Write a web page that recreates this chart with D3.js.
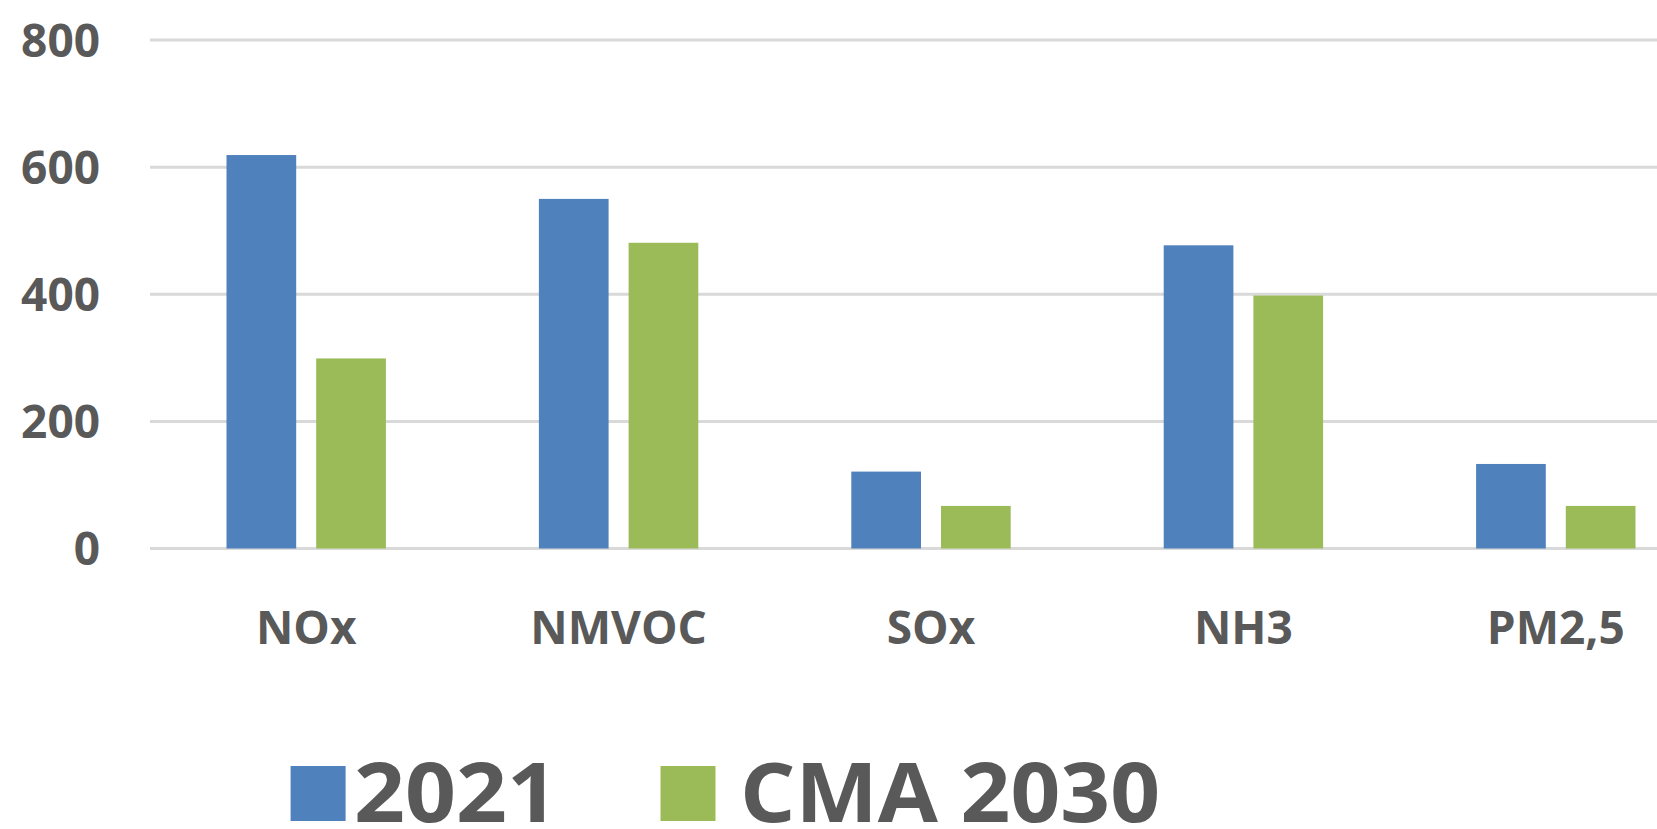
<!DOCTYPE html>
<html>
<head>
<meta charset="utf-8">
<script src="https://cdn.jsdelivr.net/npm/d3@7"></script>
<style>
  html, body { margin: 0; padding: 0; background: #ffffff; }
  svg { display: block; }
</style>
</head>
<body>
<svg id="chart" width="1657" height="829"></svg>
<script>
const categories = ["NOx", "NMVOC", "SOx", "NH3", "PM2,5"];
const seriesNames = ["2021", "CMA 2030"];
const values2021 = [619, 550, 121, 477, 133];
const valuesCMA2030 = [299, 481, 67, 398, 67];
const yTicks = [0, 200, 400, 600, 800];
const colors = ["#4f81bd", "#9bbb59"];

const seriesValues = [values2021, valuesCMA2030];
const rows = categories.map((c, i) => ({
  cat: c,
  vals: seriesNames.map((s, j) => ({ series: s, value: seriesValues[j][i], color: colors[j] }))
}));

const svg = d3.select("#chart");
const textColor = "#595959";
const fontFam = "'Open Sans', 'Liberation Sans', sans-serif";

const x0 = d3.scaleBand().domain(categories).range([150, 1712]).padding(0);
const x1 = d3.scaleBand().domain(seriesNames).range([0, x0.bandwidth()])
  .paddingInner(0.223).paddingOuter(0.853);
const y = d3.scaleLinear().domain([0, 800]).range([548.5, 40]);

// gridlines
svg.append("g").selectAll("line").data(yTicks).join("line")
  .attr("x1", 150).attr("x2", 1712)
  .attr("y1", d => y(d)).attr("y2", d => y(d))
  .attr("stroke", "#d9d9d9").attr("stroke-width", 3);

// y tick labels
svg.append("g").selectAll("text").data(yTicks).join("text")
  .attr("x", 100).attr("y", d => y(d))
  .attr("dy", "0.36em")
  .attr("text-anchor", "end")
  .attr("font-family", fontFam).attr("font-weight", 700)
  .attr("font-size", 46).attr("fill", textColor)
  .text(d => d);

// bars
const groups = svg.append("g").selectAll("g").data(rows).join("g")
  .attr("transform", d => `translate(${x0(d.cat)},0)`);
groups.selectAll("rect").data(d => d.vals).join("rect")
  .attr("x", d => x1(d.series))
  .attr("width", x1.bandwidth())
  .attr("y", d => y(d.value))
  .attr("height", d => y(0) - y(d.value))
  .attr("fill", d => d.color);

// x labels
svg.append("g").selectAll("text").data(categories).join("text")
  .attr("x", d => x0(d) + x0.bandwidth() / 2)
  .attr("y", 644)
  .attr("text-anchor", "middle")
  .attr("font-family", fontFam).attr("font-weight", 700)
  .attr("font-size", 46).attr("fill", textColor)
  .text(d => d);

// legend
const swatchX = [290.6, 660.5];
const labelX = [354, 740];
const labelLen = [204, 420];
const leg = svg.append("g").selectAll("g").data(seriesNames).join("g");
leg.append("rect")
  .attr("x", (d, i) => swatchX[i]).attr("y", 766).attr("width", 55).attr("height", 55)
  .attr("fill", (d, i) => colors[i]);
leg.append("text")
  .attr("x", (d, i) => labelX[i]).attr("y", 822)
  .attr("textLength", (d, i) => labelLen[i])
  .attr("lengthAdjust", "spacingAndGlyphs")
  .attr("font-family", fontFam).attr("font-weight", 700)
  .attr("font-size", 82).attr("fill", textColor)
  .text(d => d);
</script>
</body>
</html>
